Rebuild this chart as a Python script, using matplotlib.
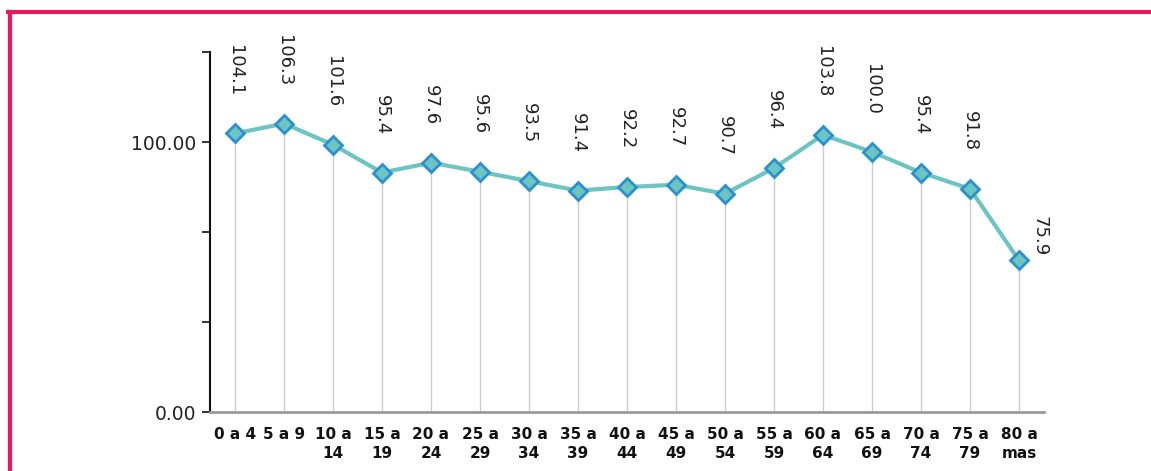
import numpy as np
import matplotlib
matplotlib.use('Agg')
import matplotlib.pyplot as plt
from matplotlib.lines import Line2D

# data
age_groups = ['0 a 4', '5 a 9', '10 a\n14', '15 a\n19', '20 a\n24', '25 a\n29', '30 a\n34',
              '35 a\n39', '40 a\n44', '45 a\n49', '50 a\n54', '55 a\n59', '60 a\n64',
              '65 a\n69', '70 a\n74', '75 a\n79', '80 a\nmas']
ratio = [104.1, 106.3, 101.6, 95.4, 97.6, 95.6, 93.5, 91.4, 92.2, 92.7, 90.7,
         96.4, 103.8, 100.0, 95.4, 91.8, 75.9]
ytick_vals = [42.2, 62.2, 82.2, 102.2, 122.2]
ytick_labels = ['0.00', '', '', '100.00', '']

W, H = 1151, 471
fig = plt.figure(figsize=(W / 100, H / 100), dpi=100)
ax = fig.add_axes([210.5 / W, (H - 412) / H, (1043.5 - 210.5) / W, (412 - 52) / H])

x = np.arange(len(ratio))
ax.vlines(x, ytick_vals[0], ratio, color='#cccccc', linewidth=1, zorder=1)
ax.plot(x, ratio, color='#6cc5c0', linewidth=3, marker='D', markersize=9,
        markerfacecolor='#6cc5c0', markeredgecolor='#2b90d0', markeredgewidth=2, zorder=3)

for i, v in enumerate(ratio):
    if i == len(ratio) - 1:
        ax.annotate(f'{v:.1f}', (i, v), xytext=(15, 3), textcoords='offset points',
                    rotation=270, ha='center', va='bottom', fontsize=13, color='#222222')
    else:
        ax.annotate(f'{v:.1f}', (i, v), xytext=(0, 27), textcoords='offset points',
                    rotation=270, ha='center', va='bottom', fontsize=13, color='#222222')

ax.set_xlim(-0.5, len(ratio) - 0.5)
ax.set_ylim(ytick_vals[0], ytick_vals[-1])
ax.set_yticks(ytick_vals)
ax.set_yticklabels(ytick_labels, fontsize=13.5, color='#222222')
ax.set_xticks(x)
ax.set_xticklabels(age_groups, fontsize=11, fontweight='bold', color='#111111', linespacing=1.3)
ax.tick_params(axis='x', length=0, pad=11)
ax.tick_params(axis='y', length=6, width=1.2, color='#111111', pad=4)

for s in ['top', 'right']:
    ax.spines[s].set_visible(False)
ax.spines['left'].set_color('#111111')
ax.spines['left'].set_linewidth(1.5)
ax.spines['bottom'].set_color('#999999')
ax.spines['bottom'].set_linewidth(2)

# pink frame, top and left
fig.add_artist(Line2D([10 / W, 10 / W], [0, (H - 12) / H], color='#e8185a', linewidth=3))
fig.add_artist(Line2D([8 / W, 1], [(H - 12) / H, (H - 12) / H], color='#e8185a', linewidth=3))

plt.savefig('out.png', dpi=100)
